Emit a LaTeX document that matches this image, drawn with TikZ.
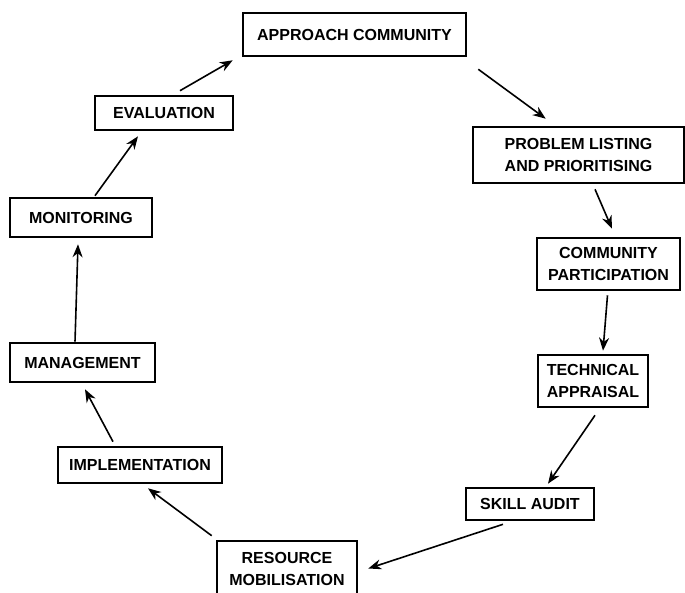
\documentclass[tikz,border=0pt]{standalone}
\usepackage{fontspec}
\setmainfont{Liberation Sans}
\usetikzlibrary{calc,arrows.meta}
\begin{document}
\begin{tikzpicture}[x=1pt,y=-1pt,
  stagebox/.style={draw=black,line width=2.6pt,inner sep=0pt,align=center,
    font=\fontsize{16}{22}\selectfont\bfseries},
  flow/.style={draw=black,line width=1.6pt,-{Stealth[length=13pt,width=10pt]}}]
\useasboundingbox (0,0) rectangle (685,593);
\node[stagebox,minimum width=223pt,minimum height=43pt] (app) at (354.5,34.5) {APPROACH COMMUNITY};
\node[stagebox,minimum width=211pt,minimum height=56pt] (prob) at (578.5,155) {PROBLEM LISTING\\AND PRIORITISING};
\node[stagebox,minimum width=143pt,minimum height=52pt] (comm) at (608.5,264) {COMMUNITY\\PARTICIPATION};
\node[stagebox,minimum width=110pt,minimum height=52pt] (tech) at (593,381) {TECHNICAL\\APPRAISAL};
\node[stagebox,minimum width=128pt,minimum height=32pt] (skill) at (530,504) {SKILL AUDIT};
\node[stagebox,minimum width=140pt,minimum height=55pt] (res) at (287,568.5) {RESOURCE\\MOBILISATION};
\node[stagebox,minimum width=164pt,minimum height=36pt] (impl) at (140,465) {IMPLEMENTATION};
\node[stagebox,minimum width=145pt,minimum height=39pt] (man) at (82.5,362.5) {MANAGEMENT};
\node[stagebox,minimum width=142pt,minimum height=39pt] (mon) at (81,217.5) {MONITORING};
\node[stagebox,minimum width=138pt,minimum height=34pt] (eval) at (164,113) {EVALUATION};
\draw[flow] ($(app.south east)+(11,12)$) -- ($(prob.north west)+(74,-7)$);
\draw[flow] ($(prob.south)+(16.5,5)$) -- ($(comm.north)+(3.5,-8)$);
\draw[flow] ($(comm.south)+(-1,4)$) -- ($(tech.north)+(10,-3)$);
\draw[flow] ($(tech.south)+(2,7)$) -- ($(skill.north)+(18,-3)$);
\draw[flow] ($(skill.south)+(-27,3)$) -- ($(res.east)+(10,0)$);
\draw[flow] ($(res.north west)+(-4,-4)$) -- ($(impl.south)+(8,4)$);
\draw[flow] ($(impl.north)+(-27,-4)$) -- ($(man.south)+(2.5,6)$);
\draw[flow] ($(man.north)+(-7.5,0)$) -- ($(mon.south)+(-3,6)$);
\draw[flow] ($(mon.north)+(14,-1)$) -- ($(eval.south)+(-26,5)$);
\draw[flow] ($(eval.north)+(16,-4)$) -- ($(app.south west)+(-9,3)$);
\end{tikzpicture}
\end{document}
